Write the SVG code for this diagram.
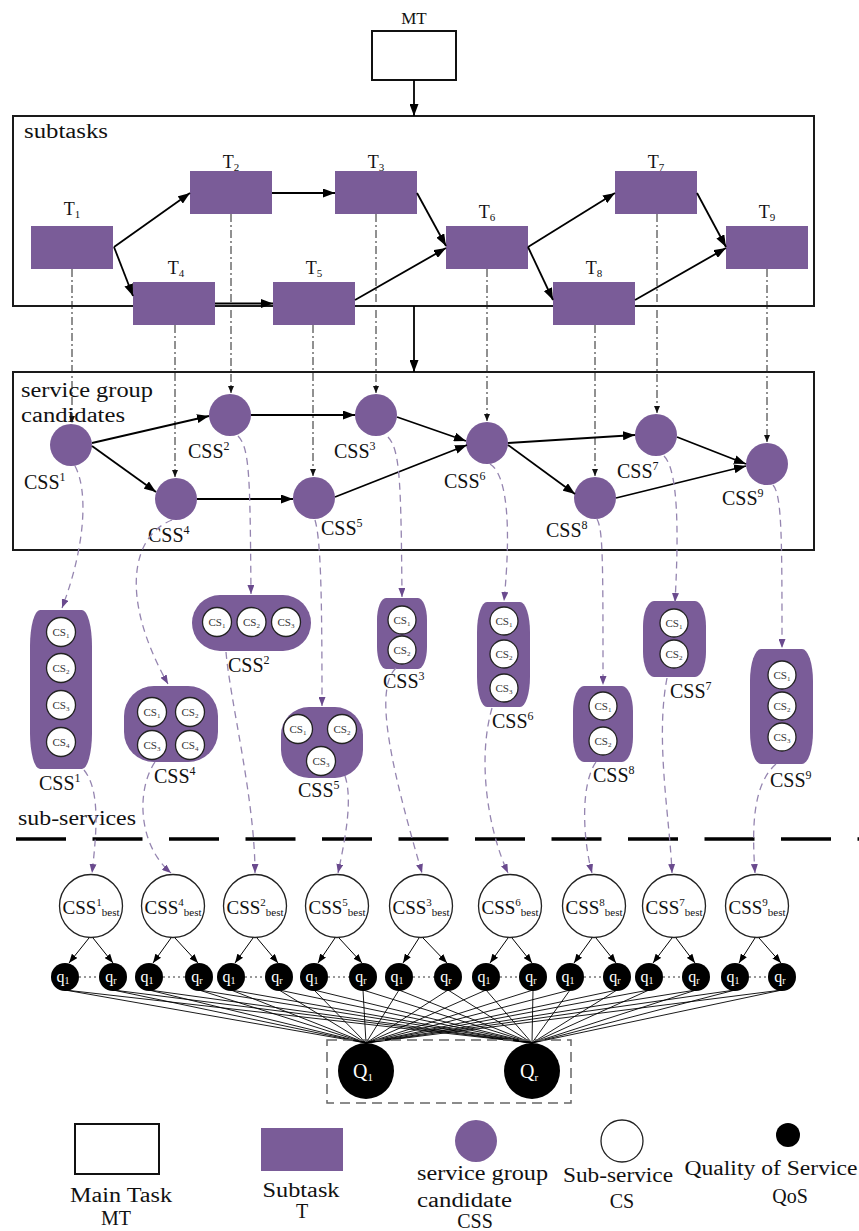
<svg xmlns="http://www.w3.org/2000/svg" width="859" height="1231" viewBox="0 0 859 1231" font-family="Liberation Serif, Times New Roman, serif">
<defs>
<style>
text{font-family:"Liberation Serif","Times New Roman",serif;fill:#111}
.frame{fill:none;stroke:#1a1a1a;stroke-width:2}
.task{fill:#7a5c98}
.css{fill:#7a5c98}
.grp{fill:#7a5c98}
.cs{fill:#fff;stroke:#222;stroke-width:1.3}
.cst{font-size:11px;fill:#333}
.flow{fill:none;stroke:#000;stroke-width:1.8}
.dd{fill:none;stroke:#222;stroke-width:1;stroke-dasharray:8 3 2 3}
.pd{fill:none;stroke:#9585b0;stroke-width:1.3;stroke-dasharray:7 5}
.best{fill:#fff;stroke:#222;stroke-width:1.3}
.q{fill:#000}
.qt{font-size:16px;fill:#fff}
.ql{fill:none;stroke:#000;stroke-width:0.9}
.lbl{font-size:20px}
.tl{font-size:18px}
</style>
<marker id="ah" viewBox="0 0 12 9" refX="12" refY="4.5" markerWidth="12" markerHeight="9" markerUnits="userSpaceOnUse" orient="auto"><path d="M0,0 L12,4.5 L0,9 z" fill="#000"/></marker>
<marker id="as" viewBox="0 0 7 6" refX="7" refY="3" markerWidth="7" markerHeight="6" markerUnits="userSpaceOnUse" orient="auto"><path d="M0,0 L7,3 L0,6 z" fill="#111"/></marker>
<marker id="ap" viewBox="0 0 9 7" refX="9" refY="3.5" markerWidth="9" markerHeight="7" markerUnits="userSpaceOnUse" orient="auto"><path d="M0,0 L9,3.5 L0,7 z" fill="#6a4a8e"/></marker>
<marker id="aq" viewBox="0 0 9 7" refX="9" refY="3.5" markerWidth="9" markerHeight="7" markerUnits="userSpaceOnUse" orient="auto"><path d="M0,0 L9,3.5 L0,7 z" fill="#000"/></marker>
</defs>
<rect width="859" height="1231" fill="#fff"/>

<!-- Main task -->
<g id="MT">
<rect x="372" y="31" width="84" height="49" fill="#fff" stroke="#111" stroke-width="2"/>
<text x="414" y="24" text-anchor="middle" style="font-size:17px">MT</text>
</g>

<!-- Frames -->
<g id="subtasks-frame">
<rect class="frame" x="13" y="116" width="801" height="190"/>
<text x="24" y="138" class="lbl" textLength="84" lengthAdjust="spacingAndGlyphs">subtasks</text>
</g>
<g id="css-frame">
<rect class="frame" x="13" y="372" width="801" height="178"/>
<text x="21" y="397" class="lbl" textLength="132" lengthAdjust="spacingAndGlyphs">service group</text>
<text x="21" y="422" class="lbl" textLength="104" lengthAdjust="spacingAndGlyphs">candidates</text>
</g>

<!-- Subtasks -->
<g id="T1"><rect class="task" x="31" y="226" width="82" height="43"/><text class="tl" x="72" y="215" text-anchor="middle">T<tspan font-size="11" dy="3">1</tspan></text></g>
<g id="T2"><rect class="task" x="190" y="171" width="82" height="43"/><text class="tl" x="231" y="168" text-anchor="middle">T<tspan font-size="11" dy="3">2</tspan></text></g>
<g id="T3"><rect class="task" x="335" y="171" width="82" height="43"/><text class="tl" x="376" y="168" text-anchor="middle">T<tspan font-size="11" dy="3">3</tspan></text></g>
<g id="T4"><rect class="task" x="133" y="282" width="82" height="43"/><text class="tl" x="176" y="274" text-anchor="middle">T<tspan font-size="11" dy="3">4</tspan></text></g>
<g id="T5"><rect class="task" x="273" y="282" width="82" height="43"/><text class="tl" x="314" y="274" text-anchor="middle">T<tspan font-size="11" dy="3">5</tspan></text></g>
<g id="T6"><rect class="task" x="446" y="226" width="82" height="43"/><text class="tl" x="487" y="218" text-anchor="middle">T<tspan font-size="11" dy="3">6</tspan></text></g>
<g id="T7"><rect class="task" x="615" y="171" width="82" height="43"/><text class="tl" x="656" y="168" text-anchor="middle">T<tspan font-size="11" dy="3">7</tspan></text></g>
<g id="T8"><rect class="task" x="553" y="282" width="82" height="43"/><text class="tl" x="594" y="274" text-anchor="middle">T<tspan font-size="11" dy="3">8</tspan></text></g>
<g id="T9"><rect class="task" x="726" y="226" width="82" height="43"/><text class="tl" x="767" y="218" text-anchor="middle">T<tspan font-size="11" dy="3">9</tspan></text></g>

<!-- CSS circles -->
<g id="CSS1"><circle class="css" cx="71" cy="445" r="21"/><text class="lbl" x="24" y="489">CSS<tspan font-size="12" dy="-8">1</tspan></text></g>
<g id="CSS2"><circle class="css" cx="230" cy="415" r="21"/><text class="lbl" x="188" y="458">CSS<tspan font-size="12" dy="-8">2</tspan></text></g>
<g id="CSS3"><circle class="css" cx="376" cy="415" r="21"/><text class="lbl" x="334" y="458">CSS<tspan font-size="12" dy="-8">3</tspan></text></g>
<g id="CSS4"><circle class="css" cx="176" cy="499" r="21"/><text class="lbl" x="148" y="542">CSS<tspan font-size="12" dy="-8">4</tspan></text></g>
<g id="CSS5"><circle class="css" cx="314" cy="498" r="21"/><text class="lbl" x="321" y="535">CSS<tspan font-size="12" dy="-8">5</tspan></text></g>
<g id="CSS6"><circle class="css" cx="487" cy="443" r="21"/><text class="lbl" x="444" y="488">CSS<tspan font-size="12" dy="-8">6</tspan></text></g>
<g id="CSS7"><circle class="css" cx="656" cy="435" r="21"/><text class="lbl" x="617" y="478">CSS<tspan font-size="12" dy="-8">7</tspan></text></g>
<g id="CSS8"><circle class="css" cx="595" cy="498" r="21"/><text class="lbl" x="546" y="537">CSS<tspan font-size="12" dy="-8">8</tspan></text></g>
<g id="CSS9"><circle class="css" cx="767" cy="464" r="21"/><text class="lbl" x="722" y="505">CSS<tspan font-size="12" dy="-8">9</tspan></text></g>

<!-- CSS groups -->
<g id="G1">
<rect class="grp" x="30" y="610" width="62" height="159" rx="10" ry="36"/>
<circle class="cs" cx="61" cy="632" r="14.5"/><text class="cst" x="61" y="636" text-anchor="middle">CS<tspan font-size="7" dy="2">1</tspan></text>
<circle class="cs" cx="61" cy="668" r="14.5"/><text class="cst" x="61" y="672" text-anchor="middle">CS<tspan font-size="7" dy="2">2</tspan></text>
<circle class="cs" cx="61" cy="705" r="14.5"/><text class="cst" x="61" y="709" text-anchor="middle">CS<tspan font-size="7" dy="2">3</tspan></text>
<circle class="cs" cx="61" cy="742" r="14.5"/><text class="cst" x="61" y="746" text-anchor="middle">CS<tspan font-size="7" dy="2">4</tspan></text>
<text class="lbl" x="39" y="790">CSS<tspan font-size="12" dy="-8">1</tspan></text>
</g>
<g id="G2">
<rect class="grp" x="192" y="595" width="119" height="56" rx="28"/>
<circle class="cs" cx="217" cy="622" r="14.5"/><text class="cst" x="217" y="626" text-anchor="middle">CS<tspan font-size="7" dy="2">1</tspan></text>
<circle class="cs" cx="251.5" cy="622" r="14.5"/><text class="cst" x="251.5" y="626" text-anchor="middle">CS<tspan font-size="7" dy="2">2</tspan></text>
<circle class="cs" cx="286" cy="622" r="14.5"/><text class="cst" x="286" y="626" text-anchor="middle">CS<tspan font-size="7" dy="2">3</tspan></text>
<text class="lbl" x="228" y="672">CSS<tspan font-size="12" dy="-8">2</tspan></text>
</g>
<g id="G3">
<rect class="grp" x="377" y="598" width="50" height="71" rx="9" ry="22"/>
<circle class="cs" cx="402" cy="620" r="14"/><text class="cst" x="402" y="624" text-anchor="middle">CS<tspan font-size="7" dy="2">1</tspan></text>
<circle class="cs" cx="402" cy="650" r="14"/><text class="cst" x="402" y="654" text-anchor="middle">CS<tspan font-size="7" dy="2">2</tspan></text>
<text class="lbl" x="383" y="688">CSS<tspan font-size="12" dy="-8">3</tspan></text>
</g>
<g id="G4">
<rect class="grp" x="124" y="686" width="94" height="76" rx="30" ry="30"/>
<circle class="cs" cx="152" cy="712" r="14.5"/><text class="cst" x="152" y="716" text-anchor="middle">CS<tspan font-size="7" dy="2">1</tspan></text>
<circle class="cs" cx="190" cy="712" r="14.5"/><text class="cst" x="190" y="716" text-anchor="middle">CS<tspan font-size="7" dy="2">2</tspan></text>
<circle class="cs" cx="152" cy="745" r="14.5"/><text class="cst" x="152" y="749" text-anchor="middle">CS<tspan font-size="7" dy="2">3</tspan></text>
<circle class="cs" cx="190" cy="745" r="14.5"/><text class="cst" x="190" y="749" text-anchor="middle">CS<tspan font-size="7" dy="2">4</tspan></text>
<text class="lbl" x="154" y="783">CSS<tspan font-size="12" dy="-8">4</tspan></text>
</g>
<g id="G5">
<rect class="grp" x="281" y="707" width="82" height="71" rx="28" ry="28"/>
<circle class="cs" cx="298" cy="729" r="14.5"/><text class="cst" x="298" y="733" text-anchor="middle">CS<tspan font-size="7" dy="2">1</tspan></text>
<circle class="cs" cx="342" cy="729" r="14.5"/><text class="cst" x="342" y="733" text-anchor="middle">CS<tspan font-size="7" dy="2">2</tspan></text>
<circle class="cs" cx="321" cy="761" r="14.5"/><text class="cst" x="321" y="765" text-anchor="middle">CS<tspan font-size="7" dy="2">3</tspan></text>
<text class="lbl" x="298" y="797">CSS<tspan font-size="12" dy="-8">5</tspan></text>
</g>
<g id="G6">
<rect class="grp" x="477" y="602" width="53" height="105" rx="10" ry="30"/>
<circle class="cs" cx="504" cy="621" r="14"/><text class="cst" x="504" y="625" text-anchor="middle">CS<tspan font-size="7" dy="2">1</tspan></text>
<circle class="cs" cx="504" cy="654" r="14"/><text class="cst" x="504" y="658" text-anchor="middle">CS<tspan font-size="7" dy="2">2</tspan></text>
<circle class="cs" cx="504" cy="688" r="14"/><text class="cst" x="504" y="692" text-anchor="middle">CS<tspan font-size="7" dy="2">3</tspan></text>
<text class="lbl" x="492" y="728">CSS<tspan font-size="12" dy="-8">6</tspan></text>
</g>
<g id="G7">
<rect class="grp" x="643" y="601" width="63" height="76" rx="11" ry="25"/>
<circle class="cs" cx="674" cy="623" r="14"/><text class="cst" x="674" y="627" text-anchor="middle">CS<tspan font-size="7" dy="2">1</tspan></text>
<circle class="cs" cx="674" cy="654" r="14"/><text class="cst" x="674" y="658" text-anchor="middle">CS<tspan font-size="7" dy="2">2</tspan></text>
<text class="lbl" x="670" y="698">CSS<tspan font-size="12" dy="-8">7</tspan></text>
</g>
<g id="G8">
<rect class="grp" x="573" y="686" width="60" height="76" rx="11" ry="25"/>
<circle class="cs" cx="603" cy="706" r="14"/><text class="cst" x="603" y="710" text-anchor="middle">CS<tspan font-size="7" dy="2">1</tspan></text>
<circle class="cs" cx="603" cy="741" r="14"/><text class="cst" x="603" y="745" text-anchor="middle">CS<tspan font-size="7" dy="2">2</tspan></text>
<text class="lbl" x="593" y="782">CSS<tspan font-size="12" dy="-8">8</tspan></text>
</g>
<g id="G9">
<rect class="grp" x="750" y="649" width="63" height="115" rx="11" ry="32"/>
<circle class="cs" cx="782" cy="675" r="14"/><text class="cst" x="782" y="679" text-anchor="middle">CS<tspan font-size="7" dy="2">1</tspan></text>
<circle class="cs" cx="782" cy="706" r="14"/><text class="cst" x="782" y="710" text-anchor="middle">CS<tspan font-size="7" dy="2">2</tspan></text>
<circle class="cs" cx="782" cy="737" r="14"/><text class="cst" x="782" y="741" text-anchor="middle">CS<tspan font-size="7" dy="2">3</tspan></text>
<text class="lbl" x="770" y="787">CSS<tspan font-size="12" dy="-8">9</tspan></text>
</g>

<!-- sub-services divider -->
<g id="sub-services">
<text class="lbl" x="18" y="825" textLength="118" lengthAdjust="spacingAndGlyphs">sub-services</text>
<line x1="16" y1="839" x2="859" y2="839" stroke="#000" stroke-width="3.5" stroke-dasharray="50 26.5"/>
</g>

<!-- Connectors -->
<g id="connectors">
<line class="flow" x1="414" y1="80" x2="414" y2="116" marker-end="url(#ah)"/>
<line class="flow" x1="414" y1="306" x2="414" y2="372" marker-end="url(#ah)"/>
<!-- task flow -->
<line class="flow" x1="114" y1="247" x2="190" y2="193" marker-end="url(#ah)"/>
<line class="flow" x1="114" y1="247" x2="133" y2="296" marker-end="url(#ah)"/>
<line class="flow" x1="272" y1="193" x2="335" y2="193" marker-end="url(#ah)"/>
<line class="flow" x1="417" y1="193" x2="446" y2="246" marker-end="url(#ah)"/>
<line class="flow" x1="215" y1="303.5" x2="273" y2="303.5" marker-end="url(#ah)"/>
<line class="flow" x1="355" y1="300" x2="446" y2="248" marker-end="url(#ah)"/>
<line class="flow" x1="528" y1="247" x2="615" y2="193" marker-end="url(#ah)"/>
<line class="flow" x1="528" y1="247" x2="553" y2="300" marker-end="url(#ah)"/>
<line class="flow" x1="697" y1="193" x2="726" y2="247" marker-end="url(#ah)"/>
<line class="flow" x1="635" y1="300" x2="726" y2="248" marker-end="url(#ah)"/>
<!-- dash-dot mapping -->
<line class="dd" x1="72" y1="269" x2="72" y2="423" marker-end="url(#as)"/>
<line class="dd" x1="231" y1="214" x2="231" y2="393" marker-end="url(#as)"/>
<line class="dd" x1="376" y1="214" x2="376" y2="393" marker-end="url(#as)"/>
<line class="dd" x1="175" y1="325" x2="175" y2="477" marker-end="url(#as)"/>
<line class="dd" x1="313" y1="325" x2="313" y2="476" marker-end="url(#as)"/>
<line class="dd" x1="487" y1="269" x2="487" y2="421" marker-end="url(#as)"/>
<line class="dd" x1="657" y1="214" x2="657" y2="413" marker-end="url(#as)"/>
<line class="dd" x1="595" y1="325" x2="595" y2="476" marker-end="url(#as)"/>
<line class="dd" x1="767" y1="269" x2="767" y2="442" marker-end="url(#as)"/>
<!-- css flow -->
<line class="flow" x1="92" y1="443" x2="209" y2="416" marker-end="url(#ah)"/>
<line class="flow" x1="92" y1="446" x2="156" y2="492" marker-end="url(#ah)"/>
<line class="flow" x1="251" y1="415" x2="355" y2="415" marker-end="url(#ah)"/>
<line class="flow" x1="197" y1="499" x2="293" y2="499" marker-end="url(#ah)"/>
<line class="flow" x1="397" y1="417" x2="466" y2="441" marker-end="url(#ah)"/>
<line class="flow" x1="335" y1="497" x2="467" y2="445" marker-end="url(#ah)"/>
<line class="flow" x1="508" y1="443" x2="635" y2="435" marker-end="url(#ah)"/>
<line class="flow" x1="508" y1="445" x2="575" y2="494" marker-end="url(#ah)"/>
<line class="flow" x1="677" y1="437" x2="746" y2="464" marker-end="url(#ah)"/>
<line class="flow" x1="616" y1="498" x2="746" y2="466" marker-end="url(#ah)"/>
<!-- purple dashed: css to groups -->
<path class="pd" d="M75 466 C88 490 86 545 62 608" marker-end="url(#ap)"/>
<path class="pd" d="M172 520 C133 535 118 595 168 684" marker-end="url(#ap)"/>
<path class="pd" d="M238 436 C250 448 250 480 251 594" marker-end="url(#ap)"/>
<path class="pd" d="M315 520 C321 540 322 600 322 706" marker-end="url(#ap)"/>
<path class="pd" d="M388 437 C400 450 401 480 402 597" marker-end="url(#ap)"/>
<path class="pd" d="M490 464 C508 475 511 530 504 601" marker-end="url(#ap)"/>
<path class="pd" d="M597 519 C603 530 603 560 603 685" marker-end="url(#ap)"/>
<path class="pd" d="M664 456 C678 470 679 530 675 602" marker-end="url(#ap)"/>
<path class="pd" d="M773 485 C782 495 782 540 782 648" marker-end="url(#ap)"/>
<!-- purple dashed: groups to best -->
<path class="pd" d="M84 770 C100 790 97 830 92 873" marker-end="url(#ap)"/>
<path class="pd" d="M155 762 C136 790 138 845 171 873" marker-end="url(#ap)"/>
<path class="pd" d="M226 652 C230 700 255 800 255 873" marker-end="url(#ap)"/>
<path class="pd" d="M345 776 C353 800 345 840 338 873" marker-end="url(#ap)"/>
<path class="pd" d="M396 668 C373 690 392 770 422 873" marker-end="url(#ap)"/>
<path class="pd" d="M492 708 C477 760 488 830 508 873" marker-end="url(#ap)"/>
<path class="pd" d="M596 762 C580 785 583 840 592 873" marker-end="url(#ap)"/>
<path class="pd" d="M667 678 C655 740 670 820 672 873" marker-end="url(#ap)"/>
<path class="pd" d="M776 764 C752 785 752 830 755 873" marker-end="url(#ap)"/>
<!-- best to q -->
<g stroke="#000" stroke-width="1" marker-end="url(#aq)">
<line x1="89" y1="938" x2="69" y2="963"/><line x1="93" y1="938" x2="113" y2="963"/>
<line x1="171" y1="938" x2="153" y2="963"/><line x1="175" y1="938" x2="198" y2="963"/>
<line x1="253" y1="938" x2="235" y2="963"/><line x1="257" y1="938" x2="278" y2="963"/>
<line x1="335" y1="938" x2="318" y2="963"/><line x1="339" y1="938" x2="362" y2="963"/>
<line x1="419" y1="938" x2="403" y2="963"/><line x1="423" y1="938" x2="447" y2="963"/>
<line x1="508" y1="938" x2="490" y2="963"/><line x1="512" y1="938" x2="532" y2="963"/>
<line x1="592" y1="938" x2="574" y2="963"/><line x1="596" y1="938" x2="616" y2="963"/>
<line x1="672" y1="938" x2="653" y2="963"/><line x1="676" y1="938" x2="695" y2="963"/>
<line x1="755" y1="938" x2="739" y2="963"/><line x1="759" y1="938" x2="781" y2="963"/>
</g>
<!-- q to Q -->
<g class="ql">
<line x1="65" y1="990" x2="366" y2="1043"/><line x1="65" y1="990" x2="532" y2="1043"/>
<line x1="113" y1="990" x2="366" y2="1043"/><line x1="113" y1="990" x2="532" y2="1043"/>
<line x1="149" y1="990" x2="366" y2="1043"/><line x1="149" y1="990" x2="532" y2="1043"/>
<line x1="199" y1="990" x2="366" y2="1043"/><line x1="199" y1="990" x2="532" y2="1043"/>
<line x1="231" y1="990" x2="366" y2="1043"/><line x1="231" y1="990" x2="532" y2="1043"/>
<line x1="279" y1="990" x2="366" y2="1043"/><line x1="279" y1="990" x2="532" y2="1043"/>
<line x1="314" y1="990" x2="366" y2="1043"/><line x1="314" y1="990" x2="532" y2="1043"/>
<line x1="363" y1="990" x2="366" y2="1043"/><line x1="363" y1="990" x2="532" y2="1043"/>
<line x1="399" y1="990" x2="366" y2="1043"/><line x1="399" y1="990" x2="532" y2="1043"/>
<line x1="448" y1="990" x2="366" y2="1043"/><line x1="448" y1="990" x2="532" y2="1043"/>
<line x1="486" y1="990" x2="366" y2="1043"/><line x1="486" y1="990" x2="532" y2="1043"/>
<line x1="533" y1="990" x2="366" y2="1043"/><line x1="533" y1="990" x2="532" y2="1043"/>
<line x1="570" y1="990" x2="366" y2="1043"/><line x1="570" y1="990" x2="532" y2="1043"/>
<line x1="617" y1="990" x2="366" y2="1043"/><line x1="617" y1="990" x2="532" y2="1043"/>
<line x1="649" y1="990" x2="366" y2="1043"/><line x1="649" y1="990" x2="532" y2="1043"/>
<line x1="696" y1="990" x2="366" y2="1043"/><line x1="696" y1="990" x2="532" y2="1043"/>
<line x1="735" y1="990" x2="366" y2="1043"/><line x1="735" y1="990" x2="532" y2="1043"/>
<line x1="782" y1="990" x2="366" y2="1043"/><line x1="782" y1="990" x2="532" y2="1043"/>
</g>
<!-- dotted between q1 and qr -->
<g stroke="#333" stroke-width="1" stroke-dasharray="2 3">
<line x1="79" y1="977" x2="99" y2="977"/><line x1="163" y1="977" x2="185" y2="977"/>
<line x1="245" y1="977" x2="265" y2="977"/><line x1="328" y1="977" x2="349" y2="977"/>
<line x1="413" y1="977" x2="434" y2="977"/><line x1="500" y1="977" x2="519" y2="977"/>
<line x1="584" y1="977" x2="603" y2="977"/><line x1="663" y1="977" x2="682" y2="977"/>
<line x1="749" y1="977" x2="768" y2="977"/>
</g>
</g>

<!-- Best sub-service circles -->
<g id="B1"><circle class="best" cx="91" cy="906" r="31.5"/><text x="91" y="914" text-anchor="middle" style="font-size:19px">CSS<tspan font-size="11" dy="-8">1</tspan><tspan font-size="11" dy="10">best</tspan></text></g>
<g id="B4"><circle class="best" cx="173" cy="906" r="31.5"/><text x="173" y="914" text-anchor="middle" style="font-size:19px">CSS<tspan font-size="11" dy="-8">4</tspan><tspan font-size="11" dy="10">best</tspan></text></g>
<g id="B2"><circle class="best" cx="255" cy="906" r="31.5"/><text x="255" y="914" text-anchor="middle" style="font-size:19px">CSS<tspan font-size="11" dy="-8">2</tspan><tspan font-size="11" dy="10">best</tspan></text></g>
<g id="B5"><circle class="best" cx="337" cy="906" r="31.5"/><text x="337" y="914" text-anchor="middle" style="font-size:19px">CSS<tspan font-size="11" dy="-8">5</tspan><tspan font-size="11" dy="10">best</tspan></text></g>
<g id="B3"><circle class="best" cx="421" cy="906" r="31.5"/><text x="421" y="914" text-anchor="middle" style="font-size:19px">CSS<tspan font-size="11" dy="-8">3</tspan><tspan font-size="11" dy="10">best</tspan></text></g>
<g id="B6"><circle class="best" cx="510" cy="906" r="31.5"/><text x="510" y="914" text-anchor="middle" style="font-size:19px">CSS<tspan font-size="11" dy="-8">6</tspan><tspan font-size="11" dy="10">best</tspan></text></g>
<g id="B8"><circle class="best" cx="594" cy="906" r="31.5"/><text x="594" y="914" text-anchor="middle" style="font-size:19px">CSS<tspan font-size="11" dy="-8">8</tspan><tspan font-size="11" dy="10">best</tspan></text></g>
<g id="B7"><circle class="best" cx="674" cy="906" r="31.5"/><text x="674" y="914" text-anchor="middle" style="font-size:19px">CSS<tspan font-size="11" dy="-8">7</tspan><tspan font-size="11" dy="10">best</tspan></text></g>
<g id="B9"><circle class="best" cx="757" cy="906" r="31.5"/><text x="757" y="914" text-anchor="middle" style="font-size:19px">CSS<tspan font-size="11" dy="-8">9</tspan><tspan font-size="11" dy="10">best</tspan></text></g>

<!-- q nodes -->
<g id="q-nodes">
<g id="q1-1"><circle class="q" cx="65" cy="977" r="14"/><text class="qt" x="63" y="982" text-anchor="middle">q<tspan font-size="10" dy="2">1</tspan></text></g>
<g id="qr-1"><circle class="q" cx="113" cy="977" r="14"/><text class="qt" x="111" y="982" text-anchor="middle">q<tspan font-size="10" dy="2">r</tspan></text></g>
<g id="q1-4"><circle class="q" cx="149" cy="977" r="14"/><text class="qt" x="147" y="982" text-anchor="middle">q<tspan font-size="10" dy="2">1</tspan></text></g>
<g id="qr-4"><circle class="q" cx="199" cy="977" r="14"/><text class="qt" x="197" y="982" text-anchor="middle">q<tspan font-size="10" dy="2">r</tspan></text></g>
<g id="q1-2"><circle class="q" cx="231" cy="977" r="14"/><text class="qt" x="229" y="982" text-anchor="middle">q<tspan font-size="10" dy="2">1</tspan></text></g>
<g id="qr-2"><circle class="q" cx="279" cy="977" r="14"/><text class="qt" x="277" y="982" text-anchor="middle">q<tspan font-size="10" dy="2">r</tspan></text></g>
<g id="q1-5"><circle class="q" cx="314" cy="977" r="14"/><text class="qt" x="312" y="982" text-anchor="middle">q<tspan font-size="10" dy="2">1</tspan></text></g>
<g id="qr-5"><circle class="q" cx="363" cy="977" r="14"/><text class="qt" x="361" y="982" text-anchor="middle">q<tspan font-size="10" dy="2">r</tspan></text></g>
<g id="q1-3"><circle class="q" cx="399" cy="977" r="14"/><text class="qt" x="397" y="982" text-anchor="middle">q<tspan font-size="10" dy="2">1</tspan></text></g>
<g id="qr-3"><circle class="q" cx="448" cy="977" r="14"/><text class="qt" x="446" y="982" text-anchor="middle">q<tspan font-size="10" dy="2">r</tspan></text></g>
<g id="q1-6"><circle class="q" cx="486" cy="977" r="14"/><text class="qt" x="484" y="982" text-anchor="middle">q<tspan font-size="10" dy="2">1</tspan></text></g>
<g id="qr-6"><circle class="q" cx="533" cy="977" r="14"/><text class="qt" x="531" y="982" text-anchor="middle">q<tspan font-size="10" dy="2">r</tspan></text></g>
<g id="q1-8"><circle class="q" cx="570" cy="977" r="14"/><text class="qt" x="568" y="982" text-anchor="middle">q<tspan font-size="10" dy="2">1</tspan></text></g>
<g id="qr-8"><circle class="q" cx="617" cy="977" r="14"/><text class="qt" x="615" y="982" text-anchor="middle">q<tspan font-size="10" dy="2">r</tspan></text></g>
<g id="q1-7"><circle class="q" cx="649" cy="977" r="14"/><text class="qt" x="647" y="982" text-anchor="middle">q<tspan font-size="10" dy="2">1</tspan></text></g>
<g id="qr-7"><circle class="q" cx="696" cy="977" r="14"/><text class="qt" x="694" y="982" text-anchor="middle">q<tspan font-size="10" dy="2">r</tspan></text></g>
<g id="q1-9"><circle class="q" cx="735" cy="977" r="14"/><text class="qt" x="733" y="982" text-anchor="middle">q<tspan font-size="10" dy="2">1</tspan></text></g>
<g id="qr-9"><circle class="q" cx="782" cy="977" r="14"/><text class="qt" x="780" y="982" text-anchor="middle">q<tspan font-size="10" dy="2">r</tspan></text></g>
</g>

<!-- Q aggregate -->
<g id="Q-group">
<rect x="327" y="1040" width="244" height="63" fill="none" stroke="#666" stroke-width="1.5" stroke-dasharray="10 6"/>
<g id="Q1"><circle class="q" cx="366" cy="1071" r="28"/><text x="363" y="1078" text-anchor="middle" style="font-size:20px;fill:#fff">Q<tspan font-size="11" dy="3">1</tspan></text></g>
<g id="Qr"><circle class="q" cx="532" cy="1071" r="28"/><text x="529" y="1078" text-anchor="middle" style="font-size:20px;fill:#fff">Q<tspan font-size="11" dy="3">r</tspan></text></g>
</g>

<!-- Legend -->
<g id="legend-MT">
<rect x="75" y="1124" width="84" height="50" fill="#fff" stroke="#111" stroke-width="2"/>
<text class="lbl" x="121" y="1202" text-anchor="middle" textLength="102" lengthAdjust="spacingAndGlyphs">Main Task</text>
<text class="lbl" x="116" y="1225" text-anchor="middle">MT</text>
</g>
<g id="legend-T">
<rect class="task" x="261" y="1128" width="82" height="43"/>
<text class="lbl" x="301" y="1197" text-anchor="middle" textLength="77" lengthAdjust="spacingAndGlyphs">Subtask</text>
<text class="lbl" x="302" y="1218" text-anchor="middle">T</text>
</g>
<g id="legend-CSS">
<circle class="css" cx="476" cy="1141" r="21"/>
<text class="lbl" x="417" y="1180" textLength="131" lengthAdjust="spacingAndGlyphs">service group</text>
<text class="lbl" x="417" y="1207" textLength="95" lengthAdjust="spacingAndGlyphs">candidate</text>
<text class="lbl" x="475" y="1228" text-anchor="middle">CSS</text>
</g>
<g id="legend-CS">
<circle cx="622" cy="1141" r="21" fill="#fff" stroke="#222" stroke-width="1.3"/>
<text class="lbl" x="618" y="1182" text-anchor="middle" textLength="110" lengthAdjust="spacingAndGlyphs">Sub-service</text>
<text class="lbl" x="622" y="1208" text-anchor="middle">CS</text>
</g>
<g id="legend-QoS">
<circle class="q" cx="788" cy="1135" r="12"/>
<text class="lbl" x="771" y="1175" text-anchor="middle" textLength="173" lengthAdjust="spacingAndGlyphs">Quality of Service</text>
<text class="lbl" x="790" y="1203" text-anchor="middle">QoS</text>
</g>
</svg>
